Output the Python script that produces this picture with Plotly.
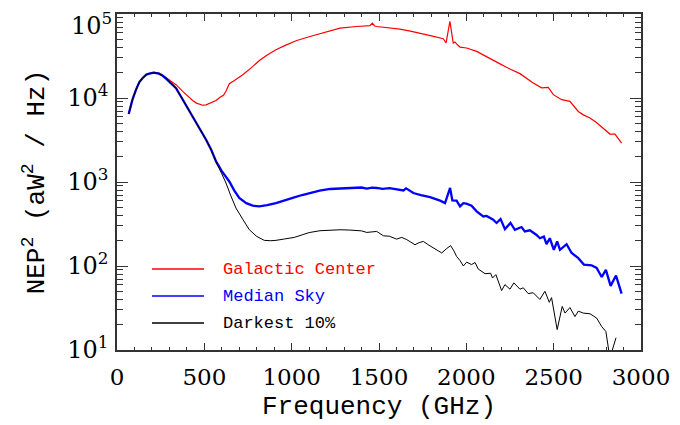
import plotly.graph_objects as go

# ---------------- data ----------------
freq_gc = [67, 88, 109, 128, 147, 168, 185, 210, 240, 260, 281, 309, 338, 376, 405, 433, 455, 475,
           490, 510, 538, 567, 590, 610, 625, 643, 670, 700, 720, 770, 815, 860, 910, 960, 1025,
           1105, 1160, 1220, 1277, 1372, 1430, 1448, 1462, 1475, 1487, 1540, 1620, 1680, 1735,
           1800, 1868, 1884, 1906, 1925, 1935, 1944, 1964, 2002, 2059, 2116, 2193, 2250, 2307,
           2383, 2431, 2450, 2469, 2498, 2520, 2546, 2593, 2641, 2670, 2708, 2745, 2784, 2822,
           2851, 2889]
nep_gc = [6460, 9500, 12600, 15500, 17300, 19000, 19600, 20200, 19800, 18800, 17500, 15800, 14400,
          12000, 10500, 9350, 8700, 8350, 8200, 8300, 8870, 9350, 10200, 10800, 12200, 14800,
          16000, 17500, 18900, 23000, 28000, 32500, 37600, 42000, 48000, 54000, 58500, 63800,
          68000, 71000, 72300, 72600, 78000, 72000, 71000, 68800, 66200, 62500, 59400, 55000,
          50800, 45200, 81600, 45200, 46500, 44000, 40400, 39400, 35900, 31300, 25500, 22100,
          19500, 15100, 13200, 13300, 13400, 10960, 10200, 9550, 9120, 6920, 6300, 5780, 5100,
          4400, 3725, 3725, 2910]

freq_med = [67, 88, 109, 128, 147, 168, 185, 210, 240, 260, 281, 309, 338, 376, 410, 452, 480, 510,
            540, 567, 600, 624, 643, 670, 700, 740, 777, 815, 860, 910, 960, 1015, 1060, 1105,
            1160, 1220, 1280, 1340, 1372, 1400, 1430, 1460, 1487, 1520, 1560, 1600, 1640, 1655,
            1697, 1740, 1792, 1850, 1878, 1907, 1920, 1944, 1964, 1983, 2000, 2030, 2059, 2097,
            2116, 2154, 2173, 2196, 2221, 2253, 2278, 2316, 2335, 2364, 2402, 2421, 2444, 2459,
            2478, 2501, 2520, 2536, 2574, 2603, 2641, 2673, 2717, 2746, 2775, 2799, 2826, 2857,
            2889]
nep_med = [6460, 9500, 12600, 15500, 17300, 19000, 19500, 20000, 19500, 18500, 17000, 15000, 13100,
           9600, 7300, 5040, 4000, 3190, 2400, 1760, 1350, 1150, 1015, 800, 646, 560, 523, 513,
           530, 562, 610, 656, 700, 740, 790, 826, 840, 849, 849, 860, 835, 855, 849, 830, 845,
           820, 794, 840, 740, 700, 662, 600, 562, 849, 604, 600, 513, 560, 552, 522, 447, 389,
           395, 355, 325, 363, 275, 325, 270, 291, 258, 266, 234, 214, 224, 182, 214, 156, 196,
           156, 182, 143, 124, 104, 102, 95, 74, 90, 58, 77, 47]

freq_dark = [67, 88, 109, 128, 147, 168, 185, 210, 240, 260, 281, 309, 338, 376, 410, 452, 480, 510,
             540, 567, 600, 624, 650, 681, 720, 757, 800, 843, 880, 910, 960, 1015, 1060, 1100,
             1162, 1220, 1277, 1330, 1372, 1400, 1430, 1460, 1487, 1525, 1560, 1601, 1630, 1659,
             1706, 1730, 1754, 1780, 1802, 1830, 1859, 1885, 1910, 1930, 1944, 1964, 1983, 2002,
             2030, 2050, 2068, 2107, 2139, 2150, 2169, 2202, 2221, 2250, 2272, 2307, 2326, 2354,
             2383, 2421, 2450, 2475, 2488, 2520, 2549, 2565, 2593, 2622, 2641, 2670, 2708, 2746,
             2775, 2799, 2822, 2857]
nep_dark = [6460, 9500, 12600, 15500, 17300, 19000, 19500, 20000, 19500, 18500, 17000, 15000, 13100,
            9600, 7300, 5040, 4000, 3190, 2400, 1740, 1250, 973, 700, 490, 360, 271, 225, 202, 200,
            202, 210, 219, 235, 250, 263, 268, 270, 268, 266, 262, 251, 256, 258, 229, 226, 209,
            219, 206, 179, 190, 196, 180, 168, 156, 143, 160, 175, 150, 130, 116, 100, 111, 104,
            110, 92, 81, 82, 72, 79, 51, 60, 53, 63, 53, 55, 47, 48, 40, 50, 37, 42, 17.5, 33,
            27.5, 32, 25, 29, 27.5, 27, 24, 19, 16.6, 8, 14]

series_names = ["Galactic Center", "Median Sky", "Darkest 10%"]
series_colors = ["#ff0000", "#0000ff", "#000000"]
series_widths = [1.2, 2.3, 1.0]

x_tickvals = [0, 500, 1000, 1500, 2000, 2500, 3000]
y_tickvals = [10, 100, 1000, 10000, 100000]
y_ticktext = ["10<sup>1</sup>", "10<sup>2</sup>", "10<sup>3</sup>", "10<sup>4</sup>", "10<sup>5</sup>"]
y_minorvals = [m * 10 ** e for e in range(1, 5) for m in range(2, 10)]

# ---------------- figure ----------------
# The page is shown with an 8 px body margin, so the margins are shifted by 8 px.
OFF = 8
fig = go.Figure()
for xs, ys, name, col, w in zip([freq_gc, freq_med, freq_dark], [nep_gc, nep_med, nep_dark],
                                series_names, series_colors, series_widths):
    fig.add_trace(go.Scatter(x=xs, y=ys, mode="lines", name=name,
                             line=dict(color=col, width=w), showlegend=False))

axis_col = "#333333"
fig.update_layout(
    width=680, height=425,
    margin=dict(l=117 - OFF, r=39 + OFF, t=14 - OFF, b=75 + OFF, autoexpand=False),
    paper_bgcolor="white", plot_bgcolor="white",
    font=dict(family="DejaVu Serif", size=24, color="black"),
)
fig.update_xaxes(
    range=[0, 3000], tickmode="array", tickvals=x_tickvals, automargin=False,
    ticks="inside", ticklen=7, tickwidth=1.3, tickcolor=axis_col,
    showline=True, linecolor=axis_col, linewidth=1.5, mirror="allticks",
    showgrid=False, zeroline=False, ticklabeloverflow="allow",
    tickfont=dict(family="DejaVu Serif", size=23),
    ticklabelstandoff=6,
    minor=dict(dtick=100, ticks="inside", ticklen=3.5, tickwidth=1.2, tickcolor=axis_col, showgrid=False),
    title=dict(text="Frequency (GHz)", font=dict(family="Liberation Mono", size=26), standoff=6),
)
# the top label (10^5) is drawn as an annotation a little below its tick, as in the reference
fig.update_yaxes(
    type="log", range=[1, 5.0001], tickmode="array", tickvals=y_tickvals[:-1], ticktext=y_ticktext[:-1],
    automargin=False, ticklabeloverflow="allow",
    ticks="inside", ticklen=11, tickwidth=1.3, tickcolor=axis_col,
    showline=True, linecolor=axis_col, linewidth=1.5, mirror="allticks",
    showgrid=False, zeroline=False,
    tickfont=dict(family="DejaVu Serif", size=24),
    ticklabelstandoff=2,
    minor=dict(tickmode="array", tickvals=y_minorvals + [y_tickvals[-1]], ticks="inside", ticklen=6,
               tickwidth=1.2, tickcolor=axis_col, showgrid=False),
    title=dict(text="NEP<sup>2</sup> (aW<sup>2</sup> / Hz)", font=dict(family="Liberation Mono", size=26),
               standoff=15),
)

# ---------------- legend (drawn inside the plot) ----------------
px0, px1, py0, py1 = 117, 641, 14, 350
def xp(p):
    return (p - px0) / (px1 - px0)
def yp(p):
    return (py1 - p) / (py1 - py0)

fig.add_annotation(xref="paper", yref="paper", x=xp(114), y=yp(24), text=y_ticktext[-1],
                   showarrow=False, xanchor="right", yanchor="middle",
                   font=dict(family="DejaVu Serif", size=24, color="black"))

leg_y = [269, 296, 323]
for name, col, yy in zip(series_names, series_colors, leg_y):
    fig.add_shape(type="line", xref="paper", yref="paper", x0=xp(152), x1=xp(204), y0=yp(yy), y1=yp(yy),
                  line=dict(color=col, width=1.3))
    fig.add_annotation(xref="paper", yref="paper", x=xp(221), y=yp(yy), text=name, showarrow=False,
                       xanchor="left", yanchor="middle",
                       font=dict(family="Liberation Mono", size=17, color=col))

fig.write_html("out.html")
